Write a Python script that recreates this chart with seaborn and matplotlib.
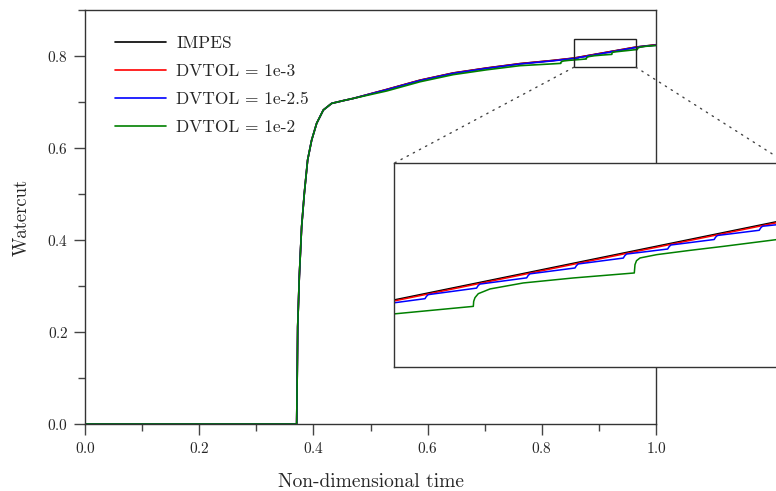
import matplotlib
matplotlib.use("Agg")
import matplotlib.pyplot as plt
import seaborn as sns
import pandas as pd
from matplotlib.patches import Rectangle, ConnectionPatch
from matplotlib.ticker import MultipleLocator

# ---------------- data ----------------
# shared early part (all four runs coincide)
early_t = [0.0, 0.3707, 0.3716, 0.3725, 0.3753, 0.3794, 0.3841, 0.3899, 0.3969,
           0.4057, 0.4174, 0.4320, 0.4524, 0.4699]
early_y = [0.0, 0.0, 0.100, 0.2116, 0.3200, 0.4290, 0.5015, 0.5740, 0.6170,
           0.6537, 0.6826, 0.6970, 0.7030, 0.7078]

impes_t = [0.5284, 0.5867, 0.6450, 0.7035, 0.7618, 0.8202, 0.8560, 0.9105, 0.9650, 1.0]
impes_y = [0.7274, 0.7475, 0.7632, 0.7740, 0.7835, 0.7905, 0.7955, 0.8075, 0.8195, 0.8245]

dv3_t = [0.5284, 0.5867, 0.6450, 0.7035, 0.7618, 0.8202, 0.8560, 0.9105, 0.9650, 1.0]
dv3_y = [0.7271, 0.7472, 0.7629, 0.7737, 0.7832, 0.7902, 0.7952, 0.8072, 0.8192, 0.8242]

dv25_t = [0.5284, 0.5867, 0.6450, 0.7035, 0.7618, 0.8202,
          0.8515, 0.8646, 0.8650, 0.8655, 0.8789, 0.8793, 0.8798, 0.8928, 0.8932, 0.8937,
          0.9062, 0.9066, 0.9071, 0.9196, 0.9200, 0.9205, 0.9319, 0.9323, 0.9328,
          0.9448, 0.9452, 0.9457, 0.9573, 0.9577, 0.9582, 0.9700, 0.9704, 0.9709, 1.0]
dv25_y = [0.7266, 0.7466, 0.7623, 0.7731, 0.7826, 0.7896,
          0.7940, 0.79589, 0.79659, 0.79709, 0.79904, 0.79974, 0.80024, 0.80210, 0.80280, 0.80330,
          0.80505, 0.80575, 0.80625, 0.80801, 0.80871, 0.80921, 0.81071, 0.81141, 0.81191,
          0.81355, 0.81425, 0.81475, 0.81631, 0.81701, 0.81751, 0.81886, 0.81956, 0.82006, 0.8235]

dv2_t = [0.5284, 0.5867, 0.6450, 0.7035, 0.7618, 0.8202,
         0.8333, 0.8334, 0.8338, 0.8347, 0.8380, 0.8472, 0.8558,
         0.8780, 0.8781, 0.87846, 0.87938, 0.88263, 0.89186, 0.90573,
         0.92265, 0.92284, 0.92326, 0.92423, 0.92886, 0.93809, 0.94733, 0.96195,
         0.9673, 0.9674, 0.9678, 0.9688, 0.9720, 0.9812, 1.0]
dv2_y = [0.7240, 0.7440, 0.7595, 0.7700, 0.7790, 0.7830,
         0.7840, 0.7855, 0.7866, 0.7878, 0.7892, 0.7905, 0.79132,
         0.79359, 0.79508, 0.79619, 0.79738, 0.79879, 0.80058, 0.80207,
         0.80356, 0.80604, 0.80723, 0.80804, 0.80903, 0.81031, 0.81150, 0.81350,
         0.8140, 0.8155, 0.8166, 0.8178, 0.8192, 0.8210, 0.8228]

series_names = ["IMPES", "DVTOL = 1e-3", "DVTOL = 1e-2.5", "DVTOL = 1e-2"]
series_colors = ["#000000", "#ff0000", "#0000ff", "#008000"]
series_t = [impes_t, dv3_t, dv25_t, dv2_t]
series_y = [impes_y, dv3_y, dv25_y, dv2_y]

zoom_x = (0.856, 0.965)
zoom_y = (0.7754, 0.8363)

# ---------------- styling ----------------
sns.set_style("ticks")
plt.rcParams["font.family"] = ["cmr10", "DejaVu Serif"]
plt.rcParams["mathtext.fontset"] = "cm"
plt.rcParams["axes.formatter.use_mathtext"] = True

fig = plt.figure(figsize=(7.76, 4.91), dpi=100)
ax = fig.add_axes([85 / 776, 1 - 424 / 491, 571 / 776, 414 / 491])
axins = fig.add_axes([394 / 776, 1 - 367.3 / 491, 393 / 776, 204 / 491])

frames = []
for name, t, y in zip(series_names, series_t, series_y):
    frames.append(pd.DataFrame({"t": early_t + t, "w": early_y + y, "series": name}))
df = pd.concat(frames, ignore_index=True)

for name, col in zip(series_names, series_colors):
    d = df[df["series"] == name]
    sns.lineplot(data=d, x="t", y="w", ax=ax, color=col, lw=1.2, label=name,
                 estimator=None, sort=False)
    sns.lineplot(data=d, x="t", y="w", ax=axins, color=col, lw=1.1, legend=False,
                 estimator=None, sort=False)

# main axes
ax.set_xlim(0, 1.0)
ax.set_ylim(0, 0.9)
ax.xaxis.set_major_locator(MultipleLocator(0.2))
ax.xaxis.set_minor_locator(MultipleLocator(0.1))
ax.yaxis.set_major_locator(MultipleLocator(0.2))
ax.yaxis.set_minor_locator(MultipleLocator(0.1))
ax.tick_params(which="major", direction="out", length=8, width=1, color="#444",
               labelsize=11, pad=4)
ax.tick_params(which="minor", direction="out", length=5, width=1, color="#444")
for s in ax.spines.values():
    s.set_color("#333")
    s.set_linewidth(1.0)
ax.set_xlabel("Non-dimensional time", fontsize=14, labelpad=12.5)
ax.set_ylabel("Watercut", fontsize=13.5, labelpad=12)
ax.legend(loc="upper left", bbox_to_anchor=(0.0525, 0.938), frameon=False, fontsize=12.5,
          handlelength=2.95, handletextpad=0.57, labelspacing=0.73, borderpad=0,
          borderaxespad=0)

# inset
axins.set_xlim(*zoom_x)
axins.set_ylim(*zoom_y)
axins.set_xticks([])
axins.set_yticks([])
axins.set_xlabel("")
axins.set_ylabel("")
for s in axins.spines.values():
    s.set_color("#333")
    s.set_linewidth(1.0)

ax.add_patch(Rectangle((zoom_x[0], zoom_y[0]), zoom_x[1] - zoom_x[0], zoom_y[1] - zoom_y[0],
                       fill=False, ec="#222", lw=1.0, zorder=5))
for xa, xb in [(zoom_x[0], 0), (zoom_x[1], 1)]:
    con = ConnectionPatch(xyA=(xa, zoom_y[0]), coordsA=ax.transData,
                          xyB=(xb, 1), coordsB=axins.transAxes,
                          ls=(0, (1, 4)), color="#444", lw=1.0)
    fig.add_artist(con)

fig.savefig("out.png", dpi=100)
